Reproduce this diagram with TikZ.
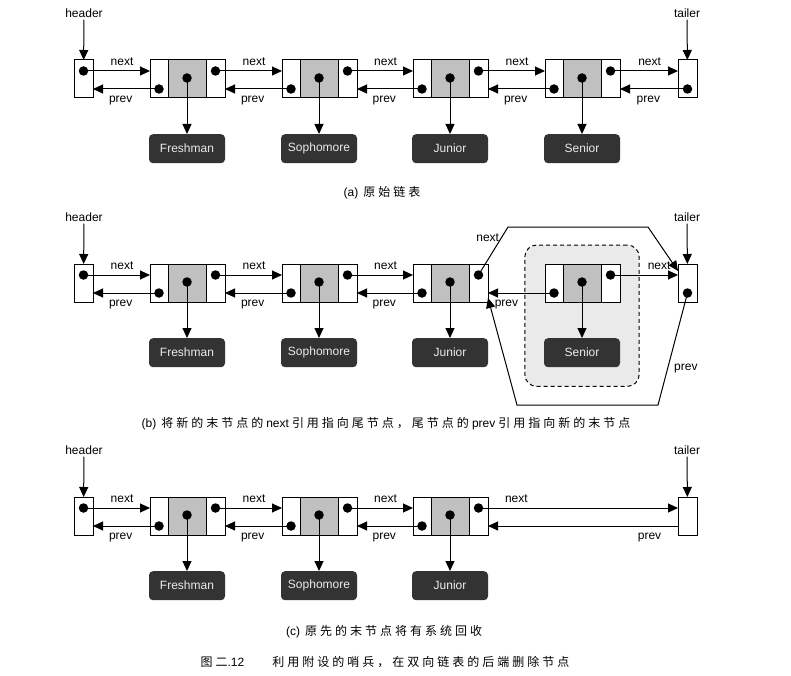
\documentclass[tikz,border=0pt]{standalone}
\usepackage{fontspec}
\setmainfont{Liberation Sans}
\newfontfamily\cjk[LetterSpace=25]{Noto Sans CJK SC}
\usepackage{tikz}
\usetikzlibrary{
  arrows.meta,
  positioning,
  fit,
  backgrounds
}
\definecolor{DataGray}{RGB}{192, 192, 192}
\definecolor{BoxDark}{RGB}{51, 51, 51}
\definecolor{ShadeGray}{RGB}{234, 234, 234}
\tikzset{
  cell/.style={draw, fill=white, line width=1pt, minimum height=38pt, inner sep=0pt, outer sep=0pt},
  dot/.style={circle, fill=black, inner sep=0pt, minimum size=9.5pt},
  record/.style={rounded corners=4pt, fill=BoxDark, text=white!92!black, minimum width=76pt, minimum height=29pt, inner sep=0pt},
  link/.style={line width=1pt, -{Triangle[length=10pt, width=9pt]}},
  tag/.style={inner sep=2pt},
  caption/.style={inner sep=0pt, font=\fontsize{12}{14}\selectfont}
}
% one list node: left cell, data cell, right cell, data box
\newcommand{\listnode}[4]{%
  \node[cell, minimum width=18pt, anchor=west] (#1-l) at (#2,#3) {};
  \node[cell, minimum width=38pt, fill=DataGray, right=0pt of #1-l] (#1-m) {};
  \node[cell, minimum width=19pt, right=0pt of #1-m] (#1-r) {};
  \node[dot, yshift=-10pt] (#1-p) at (#1-l) {};
  \node[dot, yshift=1pt] (#1-d) at (#1-m) {};
  \node[dot, yshift=8pt] (#1-n) at (#1-r) {};
  \node[record, below=36pt of #1-m] (#1-box) {#4};
  \draw[link] (#1-d.center) -- (#1-box);
}
% next/prev pair between two neighbours
\newcommand{\nextprev}[2]{%
  \draw[link] (#1-n.center) -- (#1-n -| #2-l.west) node[tag, pos=.58, above=3pt] (#1-nt) {next};
  \draw[link] (#2-p.center) -- (#2-p -| #1-r.east) node[tag, pos=.58, below=5pt] (#2-pt) {prev};
}

\begin{document}
\begin{tikzpicture}[x=1pt, y=-1pt, font=\fontsize{12}{14}\selectfont]
\useasboundingbox (0,0) rectangle (791,676);

% (a) original list
\node[cell, minimum width=19pt, anchor=west] (hA-r) at (74,79) {};
\node[dot, yshift=8pt] (hA-n) at (hA-r) {};
\node[tag] (hA-t) at (84,13) {header};
\draw[link] (hA-t) -- (hA-r);
\listnode{a1}{150}{79}{Freshman}
\listnode{a2}{282}{79}{Sophomore}
\listnode{a3}{413}{79}{Junior}
\listnode{a4}{545}{79}{Senior}
\node[cell, minimum width=19pt, anchor=west] (tA-l) at (678,79) {};
\node[dot, yshift=-10pt] (tA-p) at (tA-l) {};
\node[tag] (tA-t) at (687,13) {tailer};
\draw[link] (tA-t) -- (tA-l);
\nextprev{hA}{a1}
\nextprev{a1}{a2}
\nextprev{a2}{a3}
\nextprev{a3}{a4}
\nextprev{a4}{tA}
\node[caption] (capA) at (382,193) {(a)\hspace{5pt}{\cjk 原始链表}};

% (b) relink around the last node
\node[cell, minimum width=19pt, anchor=west] (hB-r) at (74,283) {};
\node[dot, yshift=8pt] (hB-n) at (hB-r) {};
\node[tag] (hB-t) at (84,217) {header};
\draw[link] (hB-t) -- (hB-r);
\listnode{b1}{150}{283}{Freshman}
\listnode{b2}{282}{283}{Sophomore}
\listnode{b3}{413}{283}{Junior}
\listnode{b4}{545}{283}{Senior}
\node[cell, minimum width=19pt, anchor=west] (tB-l) at (678,283) {};
\node[dot, yshift=-10pt] (tB-p) at (tB-l) {};
\node[tag] (tB-t) at (687,217) {tailer};
\draw[link] (tB-t) -- (tB-l);
\nextprev{hB}{b1}
\nextprev{b1}{b2}
\nextprev{b2}{b3}
\begin{scope}[on background layer]
  \node[fit=(b4-l)(b4-r)(b4-box), inner sep=19pt, draw, line width=1pt, dash pattern=on 4pt off 3pt, fill=ShadeGray, rounded corners=12pt] (gone) {};
\end{scope}
\draw[link] (b4-n.center) -- (b4-n -| tB-l.west) node[tag, pos=.72, above=3pt] (b4-nt) {next};
\draw[link] (b4-p.center) -- (b4-p -| b3-r.east) node[tag, pos=.72, below=5pt] (b4-pt) {prev};
\coordinate (bendNW) at (508,227);
\coordinate (bendNE) at (648,227);
\coordinate (bendSE) at (658,405);
\coordinate (bendSW) at (517,405);
\draw[link] (b3-n.center) -- (bendNW) node[tag, pos=.78, left=0pt] (b3-nt) {next}
  -- (bendNE) -- ([yshift=12pt]tB-l.west);
\draw[link] (tB-p.center) -- (bendSE) node[tag, pos=.67, right=4pt] (tB-pt) {prev}
  -- (bendSW) -- ([yshift=-15pt]b3-r.east);
\node[caption] (capB) at (386,424) {(b)\hspace{5pt}{\cjk 将新的末节点的}\hspace{3pt}next\hspace{3pt}{\cjk 引用指向尾节点，尾节点的}\hspace{3pt}prev\hspace{3pt}{\cjk 引用指向新的末节点}};

% (c) after the old last node is gone
\node[cell, minimum width=19pt, anchor=west] (hC-r) at (74,516) {};
\node[dot, yshift=8pt] (hC-n) at (hC-r) {};
\node[tag] (hC-t) at (84,450) {header};
\draw[link] (hC-t) -- (hC-r);
\listnode{c1}{150}{516}{Freshman}
\listnode{c2}{282}{516}{Sophomore}
\listnode{c3}{413}{516}{Junior}
\node[cell, minimum width=19pt, anchor=west] (tC-l) at (678,516) {};
\node[tag] (tC-t) at (687,450) {tailer};
\draw[link] (tC-t) -- (tC-l);
\nextprev{hC}{c1}
\nextprev{c1}{c2}
\nextprev{c2}{c3}
\coordinate (tC-p) at ([yshift=-10pt]tC-l.west);
\draw[link] (c3-n.center) -- (c3-n -| tC-l.west) node[tag, pos=.19, above=3pt] (c3-nt) {next};
\draw[link] (tC-p) -- (tC-p -| c3-r.east) node[tag, pos=.15, below=5pt] (tC-pt) {prev};
\node[caption] (capC) at (384,632) {(c)\hspace{5pt}{\cjk 原先的末节点将有系统回收}};

\node[caption] (capFig) at (385,662) {{\cjk 图二}.12\hspace{28pt}{\cjk 利用附设的哨兵，在双向链表的后端删除节点}};
\end{tikzpicture}
\end{document}
